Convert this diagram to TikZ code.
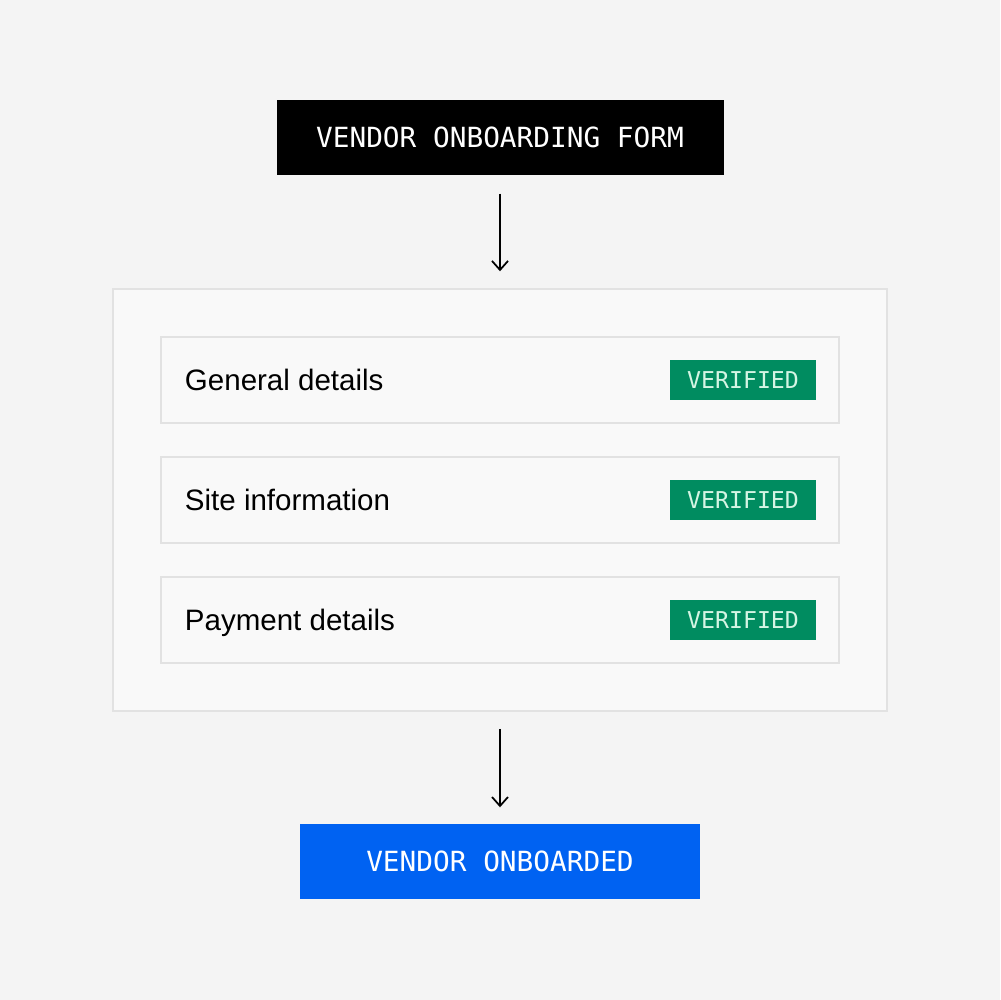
\documentclass[tikz,border=0pt]{standalone}
\usepackage{fontspec}
\setmainfont{Liberation Sans}
\setmonofont{DejaVu Sans Mono}
\usetikzlibrary{arrows.meta,positioning}
\definecolor{pagegray}{HTML}{F4F4F4}
\definecolor{panelgray}{HTML}{F9F9F9}
\definecolor{rulegray}{HTML}{E2E2E2}
\definecolor{okgreen}{HTML}{008C60}
\definecolor{okmint}{HTML}{D4F5E4}
\definecolor{doneblue}{HTML}{0062F2}

\begin{document}
\begin{tikzpicture}[x=0.1mm, y=-0.1mm,
    banner/.style={inner sep=0pt, text=white, minimum height=7.5mm,
        font=\ttfamily\fontsize{7.9}{9}\selectfont},
    rowbox/.style={draw=rulegray, fill=panelgray, line width=0.15mm,
        minimum width=67.8mm, minimum height=8.6mm, inner sep=0pt},
    rowlabel/.style={inner sep=0pt, text height=2.1mm, text depth=0pt,
        font=\fontsize{8.4}{10}\selectfont},
    okbadge/.style={fill=okgreen, text=okmint, inner sep=0pt,
        minimum width=14.6mm, minimum height=4mm,
        font=\ttfamily\fontsize{6.6}{8}\selectfont},
    flowarrow/.style={-{Straight Barb[length=0.9mm, width=1.6mm]},
        line width=0.5pt}
]
    \fill[pagegray] (0, 0) rectangle (1000, 1000);
    \useasboundingbox (0, 0) rectangle (1000, 1000);

    % top and bottom banners
    \node[banner, fill=black, minimum width=44.7mm] (form) at (500, 137.5) {VENDOR ONBOARDING FORM};
    \node[banner, fill=doneblue, minimum width=40mm] (done) at (500, 861.5) {VENDOR ONBOARDED};

    % checks panel
    \node[draw=rulegray, fill=panelgray, line width=0.15mm, inner sep=0pt,
        minimum width=77.4mm, minimum height=42.2mm] (panel) at (500, 500) {};

    \node[rowbox] (general) at (500, 380) {};
    \node[rowbox] (site) at (500, 500) {};
    \node[rowbox] (payment) at (500, 620) {};

    \node[rowlabel, right=2.4mm of general.west] (generaltxt) {General details};
    \node[rowlabel, right=2.4mm of site.west] (sitetxt) {Site information};
    \node[rowlabel, right=2.4mm of payment.west] (paymenttxt) {Payment details};

    \node[okbadge, left=2.3mm of general.east] (generalok) {VERIFIED};
    \node[okbadge, left=2.3mm of site.east] (siteok) {VERIFIED};
    \node[okbadge, left=2.3mm of payment.east] (paymentok) {VERIFIED};

    % flow
    \draw[flowarrow, shorten <=1.8mm, shorten >=1.7mm] (form) -- (panel);
    \draw[flowarrow, shorten <=1.7mm, shorten >=1.6mm] (panel) -- (done);
\end{tikzpicture}
\end{document}
